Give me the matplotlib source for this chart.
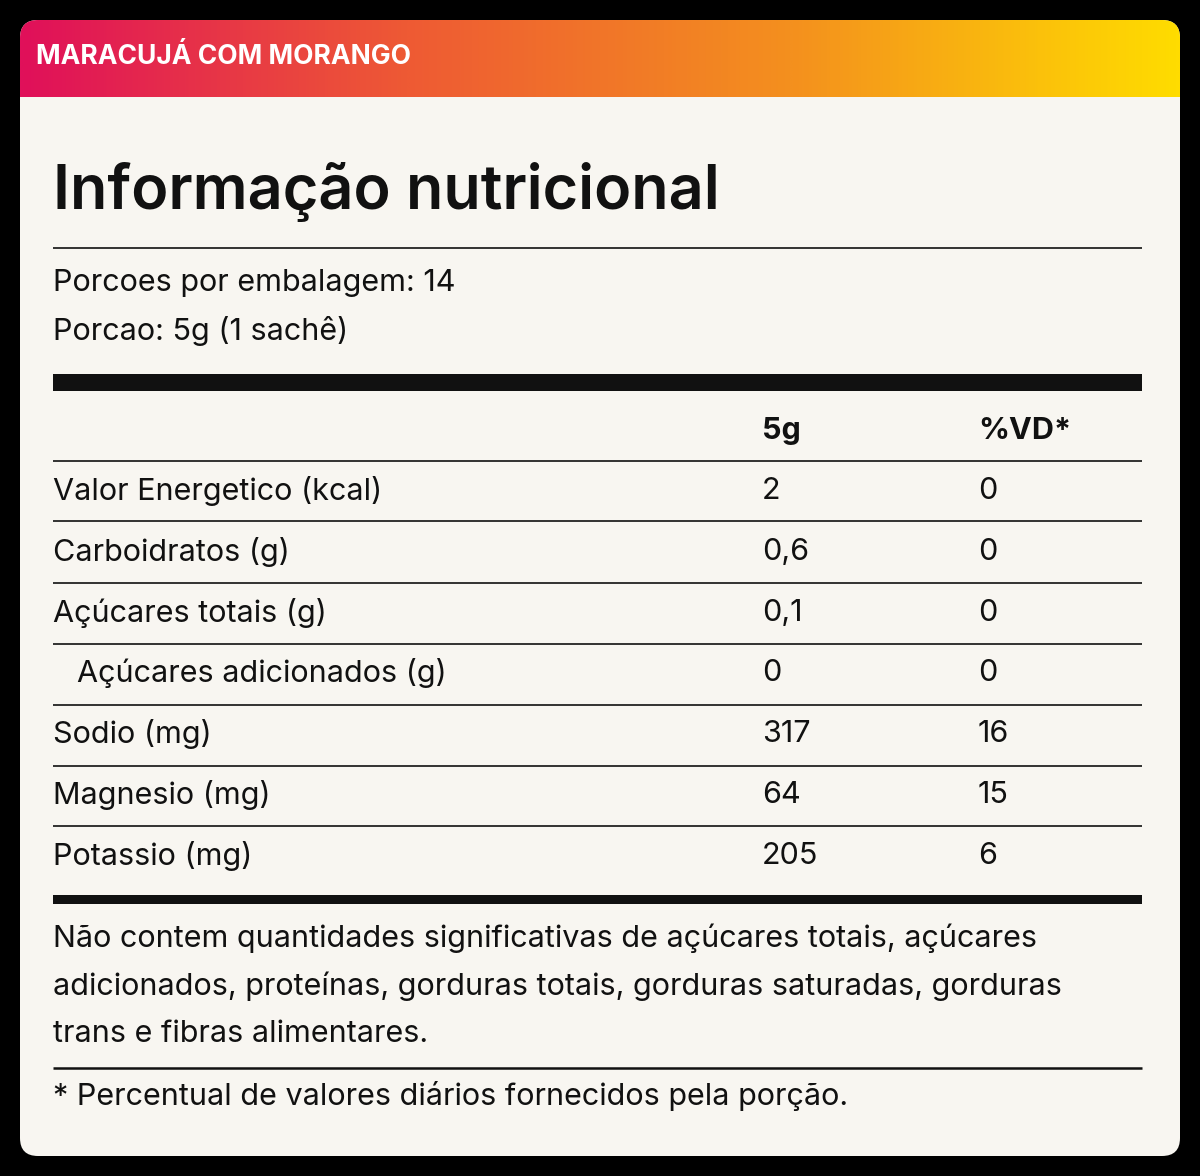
import matplotlib
matplotlib.use("Agg")
import matplotlib.pyplot as plt
import numpy as np
from matplotlib.patches import FancyBboxPatch, Rectangle

flavor = "MARACUJÁ COM MORANGO"
title = "Informação nutricional"
servings = ["Porcoes por embalagem: 14", "Porcao: 5g (1 sachê)"]
col_headers = ["5g", "%VD*"]
nutrients = ["Valor Energetico (kcal)", "Carboidratos (g)", "Açúcares totais (g)",
             "Açúcares adicionados (g)", "Sodio (mg)", "Magnesio (mg)", "Potassio (mg)"]
indent = [False, False, False, True, False, False, False]
values = ["2", "0,6", "0,1", "0", "317", "64", "205"]
vd = ["0", "0", "0", "0", "16", "15", "6"]
note = ["Não contem quantidades significativas de açúcares totais, açúcares",
        "adicionados, proteínas, gorduras totais, gorduras saturadas, gorduras",
        "trans e fibras alimentares."]
footnote = "* Percentual de valores diários fornecidos pela porção."

plt.rcParams['font.family'] = ['Inter', 'DejaVu Sans']
fig = plt.figure(figsize=(12, 11.76), dpi=100, facecolor="black")
ax = fig.add_axes([0, 0, 1, 1])
ax.set_xlim(0, 1200); ax.set_ylim(1176, 0); ax.axis("off")

card = FancyBboxPatch((20, 20), 1160, 1136, boxstyle="round,pad=0,rounding_size=18",
                      fc="#F8F6F1", ec="none")
ax.add_patch(card)
grad = np.linspace(0, 1, 400)[None, :]
from matplotlib.colors import LinearSegmentedColormap
cmap = LinearSegmentedColormap.from_list("g", ["#E0105A", "#EE5A34", "#F4901E", "#FFDC00"])
im = ax.imshow(grad, extent=(20, 1180, 97, 20), cmap=cmap, aspect="auto", zorder=2)
clip = FancyBboxPatch((20, 20), 1160, 160, boxstyle="round,pad=0,rounding_size=18",
                      fc="none", ec="none", transform=ax.transData)
ax.add_patch(clip)
im.set_clip_path(clip)
ax.set_xlim(0, 1200); ax.set_ylim(1176, 0)

ax.text(36, 57, flavor, color="white", fontsize=19, fontweight="bold", va="center", zorder=3)
ax.text(53, 192, title, color="#111111", fontsize=44, fontweight="semibold", va="center")

ink = "#111111"
def hline(y, lw):
    ax.plot([53, 1142], [y, y], color=ink, lw=lw, solid_capstyle="butt")

hline(248, 1.2)
for i, s in enumerate(servings):
    ax.text(53, 283 + 48 * i, s, fontsize=22, color=ink, va="center")
ax.add_patch(Rectangle((53, 374), 1089, 17, fc=ink, ec="none"))
ax.text(762, 431, col_headers[0], fontsize=22, fontweight="bold", color=ink, va="center")
ax.text(978, 431, col_headers[1], fontsize=22, fontweight="bold", color=ink, va="center")
lines_y = [461, 521, 583, 644, 705, 766, 826]
for i, name in enumerate(nutrients):
    hline(lines_y[i], 1.2)
    y = 491 + 60.8 * i
    ax.text(53 + (24 if indent[i] else 0), y, name, fontsize=22, color=ink, va="center")
    ax.text(762, y, values[i], fontsize=22, color=ink, va="center")
    ax.text(978, y, vd[i], fontsize=22, color=ink, va="center")
ax.add_patch(Rectangle((53, 895), 1089, 9, fc=ink, ec="none"))
for i, s in enumerate(note):
    ax.text(53, 938 + 48 * i, s, fontsize=22, color=ink, va="center")
hline(1068, 1.8)
ax.text(53, 1096, footnote, fontsize=22, color=ink, va="center")
fig.savefig("out.png", dpi=100, facecolor="black")
